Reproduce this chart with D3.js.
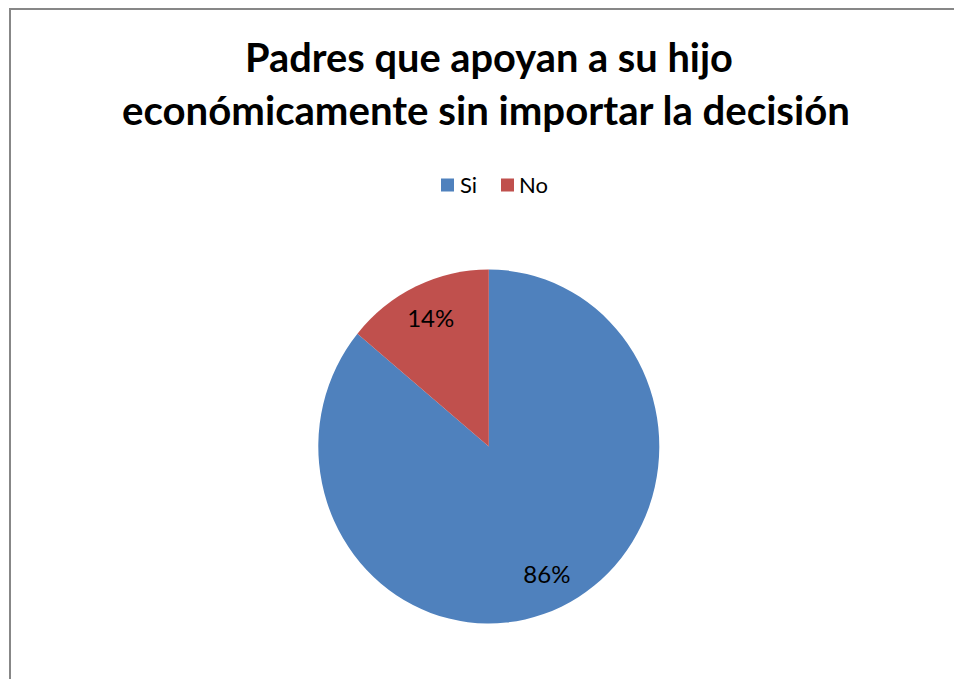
<!DOCTYPE html>
<html>
<head>
<meta charset="utf-8">
<script src="https://cdn.jsdelivr.net/npm/d3@7"></script>
<style>
  html, body { margin: 0; padding: 0; background: #fff; }
  svg { display: block; }
</style>
</head>
<body>
<div id="chart"></div>
<script>
// ---- data ----
const categories = ["Si", "No"];
const values = [86, 14];
const labels = ["86%", "14%"];
const colors = ["#4F81BD", "#C0504D"];
const titleLines = ["Padres que apoyan a su hijo", "económicamente sin importar la decisión"];

// ---- layout ----
const W = 954, H = 679;
const FONT = "Lato, 'Open Sans', sans-serif";
const svg = d3.select("#chart").append("svg").attr("width", W).attr("height", H);

svg.append("rect").attr("width", W).attr("height", H).attr("fill", "#fff");
// chart frame (extends beyond the visible area on right and bottom)
svg.append("rect")
  .attr("x", 10).attr("y", 9)
  .attr("width", W + 20).attr("height", H + 20)
  .attr("fill", "none").attr("stroke", "#878787").attr("stroke-width", 2);

// title
const titleSpecs = [
  { y: 71.5, width: 488, cx: 489 },
  { y: 124.5, width: 728, cx: 486 }
];
titleLines.forEach((t, i) => {
  const s = titleSpecs[i];
  const txt = svg.append("text")
    .attr("x", s.cx).attr("y", s.y)
    .attr("text-anchor", "middle")
    .attr("font-family", FONT).attr("font-weight", "bold")
    .attr("font-size", 38).attr("fill", "#000")
    .text(t);
  const len = txt.node().getComputedTextLength();
  txt.attr("font-size", 38 * s.width / len);
});

// legend
const legendItems = [
  { sq: 441, tx: 460 },
  { sq: 501, tx: 519 }
];
const legend = svg.append("g");
categories.forEach((c, i) => {
  legend.append("rect")
    .attr("x", legendItems[i].sq).attr("y", 178.5)
    .attr("width", 13).attr("height", 13)
    .attr("fill", colors[i]);
  legend.append("text")
    .attr("x", legendItems[i].tx).attr("y", 192.5)
    .attr("font-family", FONT).attr("font-size", 22)
    .attr("fill", "#000")
    .text(c);
});

// pie (slightly elliptical as in the reference)
const cx = 488.8, cy = 446.5, rx = 170.5, ry = 177;
const pie = d3.pie().sort(null).value(d => d);
const arcs = pie(values);
const arc = d3.arc().innerRadius(0).outerRadius(ry);
const pieG = svg.append("g")
  .attr("transform", `translate(${cx},${cy}) scale(${rx / ry},1)`);
pieG.selectAll("path").data(arcs).enter().append("path")
  .attr("d", arc)
  .attr("fill", (d, i) => colors[i]);

const labelArc = d3.arc().innerRadius(ry * 0.8).outerRadius(ry * 0.8);
svg.append("g").selectAll("text").data(arcs).enter().append("text")
  .attr("x", d => cx + labelArc.centroid(d)[0] * rx / ry)
  .attr("y", d => cy + labelArc.centroid(d)[1])
  .attr("dy", "0.35em")
  .attr("text-anchor", "middle")
  .attr("font-family", FONT).attr("font-size", 24)
  .attr("fill", "#000")
  .text((d, i) => labels[i]);
</script>
</body>
</html>
